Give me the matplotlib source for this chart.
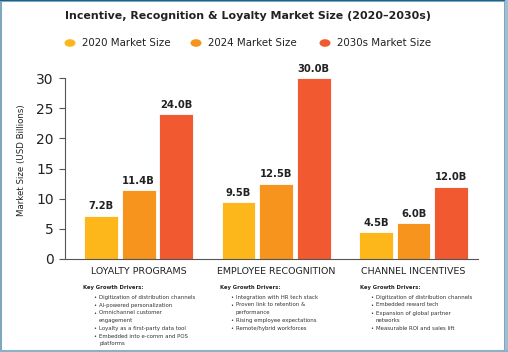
import matplotlib
matplotlib.use("Agg")
import matplotlib.pyplot as plt
import numpy as np
from matplotlib.patches import Rectangle, Circle

categories = ["LOYALTY PROGRAMS", "EMPLOYEE RECOGNITION", "CHANNEL INCENTIVES"]
series_names = ["2020 Market Size", "2024 Market Size", "2030s Market Size"]
v2020 = [7.2, 9.5, 4.5]
v2024 = [11.4, 12.5, 6.0]
v2030 = [24.0, 30.0, 12.0]
colors = ["#FDB71B", "#F7941D", "#F15A31"]
yticks = [0, 5, 10, 15, 20, 25, 30]
drivers = [
    ["Digitization of distribution channels", "AI-powered personalization",
     "Omnichannel customer\nengagement", "Loyalty as a first-party data tool",
     "Embedded into e-comm and POS\nplatforms"],
    ["Integration with HR tech stack", "Proven link to retention &\nperformance",
     "Rising employee expectations", "Remote/hybrid workforces"],
    ["Digitization of distribution channels", "Embedded reward tech",
     "Expansion of global partner\nnetworks", "Measurable ROI and sales lift"],
]

FONT = "DejaVu Sans"
plt.rcParams['font.family'] = [FONT]

W, H = 508, 352
fig = plt.figure(figsize=(W / 100, H / 100), dpi=100)
fig.patch.set_facecolor("white")

def fx(px):
    return px / W

def fy(py):
    return 1 - py / H

# axes: x from 65 to 478 px, y from 78 (30) to 259 (0)
ax = fig.add_axes([fx(65), fy(259), fx(478) - fx(65), (259 - 78) / H])
x = np.arange(len(categories))
bw = 0.247
step = 0.273
all_vals = [v2020, v2024, v2030]
for i, (vals, c) in enumerate(zip(all_vals, colors)):
    pos = x + (i - 1) * step
    ax.bar(pos, vals, width=bw, color=c, edgecolor="white", linewidth=0.6, zorder=2)
    for xp, v in zip(pos, vals):
        ax.annotate(f"{v:.1f}B", (xp, v), xytext=(0, 3), textcoords="offset points",
                    ha="center", va="bottom", fontsize=7.2, fontweight="bold",
                    color="#222222", annotation_clip=False)

ax.set_xlim(-0.535, 2.469)
ax.set_ylim(0, 30)
ax.set_yticks(yticks)
ax.set_yticklabels([str(t) for t in yticks], fontsize=10, color="#222222")
ax.set_xticks(x)
ax.set_xticklabels(categories, fontsize=6.8, color="#222222")
ax.tick_params(axis="x", length=0, pad=6)
ax.tick_params(axis="y", length=4, width=0.8, color="#555555", pad=4)
for s in ["top", "right"]:
    ax.spines[s].set_visible(False)
for s in ["left", "bottom"]:
    ax.spines[s].set_color("#555555")
    ax.spines[s].set_linewidth(0.8)
fig.text(fx(22), fy(160), "Market Size (USD Billions)", rotation=90, ha="center", va="center",
         fontsize=6.2, color="#222222")

# title
fig.text(fx(248), fy(16), "Incentive, Recognition & Loyalty Market Size (2020–2030s)",
         ha="center", va="center", fontsize=7.9, fontweight="bold", color="#222222")

# legend
leg_x = [70, 196, 325]
for lx, name, c in zip(leg_x, series_names, colors):
    fig.patches.append(Circle((fx(lx), fy(43)), radius=5.5 / W, transform=fig.transFigure,
                              facecolor=c, edgecolor="none"))
    fig.text(fx(lx + 12), fy(43), name, ha="left", va="center", fontsize=7.4, color="#222222")

# key growth drivers
cols_x = [83, 220, 360]
for cx, items in zip(cols_x, drivers):
    fig.text(fx(cx), fy(288), "Key Growth Drivers:", ha="left", va="center",
             fontsize=3.8, fontweight="bold", color="#222222")
    yy = 297
    for it in items:
        lines = it.split("\n")
        fig.text(fx(cx + 10), fy(yy), "•", ha="left", va="center", fontsize=3.8, color="#333333")
        for ln in lines:
            fig.text(fx(cx + 16), fy(yy), ln, ha="left", va="center", fontsize=3.85, color="#333333")
            yy += 7.4
        yy += 0.6

# frame border
fig.patches.append(Rectangle((fx(0.5), fy(350.5)), fx(505) - fx(0.5), (350.5 - 0.5) / H,
                             transform=fig.transFigure, fill=False,
                             edgecolor="#7FA8BE", linewidth=1.5))
fig.patches.append(Rectangle((0, fy(1.2)), fx(505), 1.2 / H, transform=fig.transFigure,
                             facecolor="#1F6088", edgecolor="none"))
fig.patches.append(Rectangle((fx(505), 0), fx(3), 1, transform=fig.transFigure,
                             facecolor="#9DBFD0", edgecolor="none"))
fig.patches.append(Rectangle((0, 0), 1, 2.5 / H, transform=fig.transFigure,
                             facecolor="#8AB2C6", edgecolor="none"))

fig.savefig("out.png", dpi=100)
